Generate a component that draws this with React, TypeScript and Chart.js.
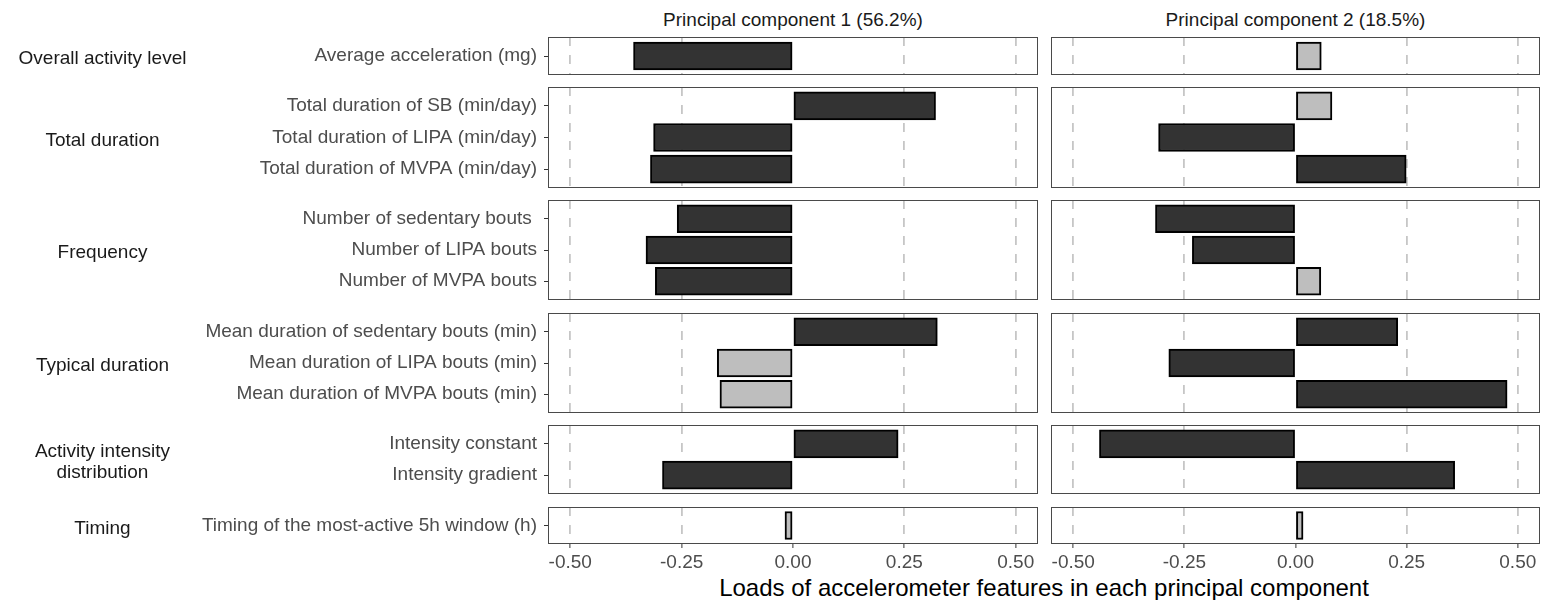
import React, { useEffect, useRef } from "react";
import { Chart, registerables } from "chart.js";

Chart.register(...registerables);

const FONT = "'Liberation Sans', Arial, Helvetica, sans-serif";

// ---------------- data ----------------
const componentTitles = ["Principal component 1 (56.2%)", "Principal component 2 (18.5%)"];

const groupLabels = [
  "Overall activity level",
  "Total duration",
  "Frequency",
  "Typical duration",
  "Activity intensity\ndistribution",
  "Timing",
];

const groupSizes = [1, 3, 3, 3, 2, 1];

const featureLabels = [
  "Average acceleration (mg)",
  "Total duration of SB (min/day)",
  "Total duration of LIPA (min/day)",
  "Total duration of MVPA (min/day)",
  "Number of sedentary bouts ",
  "Number of LIPA bouts",
  "Number of MVPA bouts",
  "Mean duration of sedentary bouts (min)",
  "Mean duration of LIPA bouts (min)",
  "Mean duration of MVPA bouts (min)",
  "Intensity constant",
  "Intensity gradient",
  "Timing of the most-active 5h window (h)",
];

const pc1Loadings = [-0.358, 0.32, -0.313, -0.32, -0.26, -0.33, -0.309, 0.324, -0.17, -0.164, 0.236, -0.293, -0.018];
const pc2Loadings = [0.058, 0.082, -0.308, 0.249, -0.315, -0.232, 0.057, 0.23, -0.285, 0.476, -0.441, 0.358, 0.017];

const xTickValues = [-0.5, -0.25, 0, 0.25, 0.5];
const xAxisTitle = "Loads of accelerometer features in each principal component";
const highlightThreshold = 0.2;

// ---------------- layout ----------------
const X_MIN = -0.55;
const X_MAX = 0.55;
const ROW_UNIT = 31.3;
const PANEL_GAP = 12.5;
const FIRST_TOP = 37.3;
const LEFT_AXIS_W = 548;
const LEFT_COL_RIGHT = 1038;
const RIGHT_COL_LEFT = 1051;
const RIGHT_COL_W = 489;
const X_AXIS_H = 30;
const DARK = "#333333";
const LIGHT = "#BEBEBE";

type Row = { top: number; height: number; start: number; n: number };

function computeRows(): Row[] {
  const rows: Row[] = [];
  let y = FIRST_TOP;
  let start = 0;
  groupSizes.forEach((n) => {
    const h = (n + 0.2) * ROW_UNIT;
    const top = Math.round(y);
    const bottom = Math.round(y + h);
    rows.push({ top, height: bottom - top, start, n });
    y += h + PANEL_GAP;
    start += n;
  });
  return rows;
}

const panelBorder = {
  id: "panelBorder",
  afterDatasetsDraw(chart: any) {
    const { ctx, chartArea: a } = chart;
    ctx.save();
    ctx.strokeStyle = "#4a4a4a";
    ctx.lineWidth = 1;
    ctx.strokeRect(
      Math.round(a.left) + 0.5,
      Math.round(a.top) + 0.5,
      Math.round(a.right - a.left) - 1,
      Math.round(a.bottom - a.top) - 1
    );
    ctx.restore();
  },
};

type PanelSpec = {
  key: string;
  left: number;
  top: number;
  width: number;
  height: number;
  labels: string[];
  values: number[];
  showY: boolean;
  showX: boolean;
};

function buildPanels(): PanelSpec[] {
  const rows = computeRows();
  const panels: PanelSpec[] = [];
  const series = [pc1Loadings, pc2Loadings];
  rows.forEach((r, ri) => {
    const last = ri === rows.length - 1;
    series.forEach((vals, ci) => {
      const labels = featureLabels.slice(r.start, r.start + r.n);
      const values = vals.slice(r.start, r.start + r.n);
      panels.push({
        key: `${ri}-${ci}`,
        left: ci === 0 ? 0 : RIGHT_COL_LEFT,
        top: r.top,
        width: ci === 0 ? LEFT_COL_RIGHT : RIGHT_COL_W,
        height: r.height + (last ? X_AXIS_H : 0),
        labels,
        values,
        showY: ci === 0,
        showX: last,
      });
    });
  });
  return panels;
}

function zeroPadding(s: any) {
  s.paddingTop = 0;
  s.paddingBottom = 0;
  s.paddingLeft = 0;
  s.paddingRight = 0;
}

function Panel({ spec }: { spec: PanelSpec }) {
  const ref = useRef<HTMLCanvasElement | null>(null);
  useEffect(() => {
    if (!ref.current) return;
    const { labels, values, showX, showY } = spec;
    const n = labels.length;
    const chart = new Chart(ref.current, {
      type: "bar",
      data: {
        datasets: [
          {
            data: values.map((v, i) => ({ x: v, y: i })),
            backgroundColor: values.map((v) => (Math.abs(v) >= highlightThreshold ? DARK : LIGHT)),
            borderColor: "#000000",
            borderWidth: 2,
            borderSkipped: false,
            barThickness: 28,
          } as any,
        ],
      },
      options: {
        indexAxis: "y",
        responsive: false,
        animation: false,
        devicePixelRatio: 1,
        layout: { padding: 0 },
        plugins: { legend: { display: false }, tooltip: { enabled: false }, title: { display: false } },
        scales: {
          x: {
            type: "linear",
            min: X_MIN,
            max: X_MAX,
            offset: false,
            afterBuildTicks: (s: any) => {
              s.ticks = xTickValues.map((v) => ({ value: v }));
            },
            afterFit: (s: any) => {
              s.height = showX ? X_AXIS_H : 0;
              zeroPadding(s);
            },
            ticks: {
              display: showX,
              autoSkip: false,
              maxRotation: 0,
              padding: 3,
              color: "#4d4d4d",
              font: { family: FONT, size: 19 },
              callback: (v: any) => Number(v).toFixed(2),
            },
            grid: {
              display: true,
              offset: false,
              drawOnChartArea: true,
              drawTicks: showX,
              tickLength: 4,
              tickColor: "#333333",
              tickWidth: 1,
              lineWidth: 1.8,
              color: (c: any) => (c.tick && c.tick.value === 0 ? "rgba(0,0,0,0)" : "#C6C6C6"),
            },
            border: { display: false, dash: [9, 9] },
          },
          y: {
            type: "linear",
            reverse: true,
            display: showY,
            offset: false,
            min: -0.6,
            max: n - 1 + 0.6,
            afterBuildTicks: (s: any) => {
              s.ticks = labels.map((_, i) => ({ value: i }));
            },
            afterFit: (s: any) => {
              if (showY) s.width = LEFT_AXIS_W;
              zeroPadding(s);
            },
            ticks: {
              autoSkip: false,
              padding: 7,
              color: "#4d4d4d",
              font: { family: FONT, size: 19 },
              callback: (v: any) => labels[Math.round(Number(v))] ?? "",
            },
            grid: {
              display: true,
              offset: false,
              drawOnChartArea: false,
              drawTicks: true,
              tickLength: 4,
              tickColor: "#333333",
              tickWidth: 1,
            },
            border: { display: false },
          },
        },
      } as any,
      plugins: [panelBorder],
    });
    return () => chart.destroy();
  }, [spec]);
  return (
    <canvas
      ref={ref}
      width={spec.width}
      height={spec.height}
      style={{
        position: "absolute",
        left: spec.left,
        top: spec.top,
        width: spec.width,
        height: spec.height,
      }}
    />
  );
}

const panels = buildPanels();
const rows = computeRows();

export default function App() {
  const textBase: React.CSSProperties = {
    position: "absolute",
    fontFamily: FONT,
    fontSize: 19,
    textAlign: "center",
    whiteSpace: "pre-line",
    transform: "translateY(-50%)",
  };
  return (
    <div style={{ position: "absolute", left: 0, top: 0, width: 1544, height: 600, background: "#fff", overflow: "hidden" }}>
      {panels.map((p) => (
        <Panel key={p.key} spec={p} />
      ))}
      {componentTitles.map((t, i) => (
        <div
          key={t}
          style={{
            ...textBase,
            left: i === 0 ? LEFT_AXIS_W : RIGHT_COL_LEFT,
            width: i === 0 ? LEFT_COL_RIGHT - LEFT_AXIS_W : RIGHT_COL_W,
            top: 20,
            color: "#1a1a1a",
            lineHeight: "22px",
          }}
        >
          {t}
        </div>
      ))}
      {groupLabels.map((g, i) => (
        <div
          key={g}
          style={{
            ...textBase,
            left: 0,
            width: 205,
            top: rows[i].top + rows[i].height / 2 + 1,
            color: "#1a1a1a",
            lineHeight: "21px",
          }}
        >
          {g}
        </div>
      ))}
      <div
        style={{
          ...textBase,
          left: LEFT_AXIS_W,
          width: RIGHT_COL_LEFT + RIGHT_COL_W - LEFT_AXIS_W,
          top: 588,
          fontSize: 24,
          color: "#000",
          lineHeight: "26px",
        }}
      >
        {xAxisTitle}
      </div>
    </div>
  );
}
